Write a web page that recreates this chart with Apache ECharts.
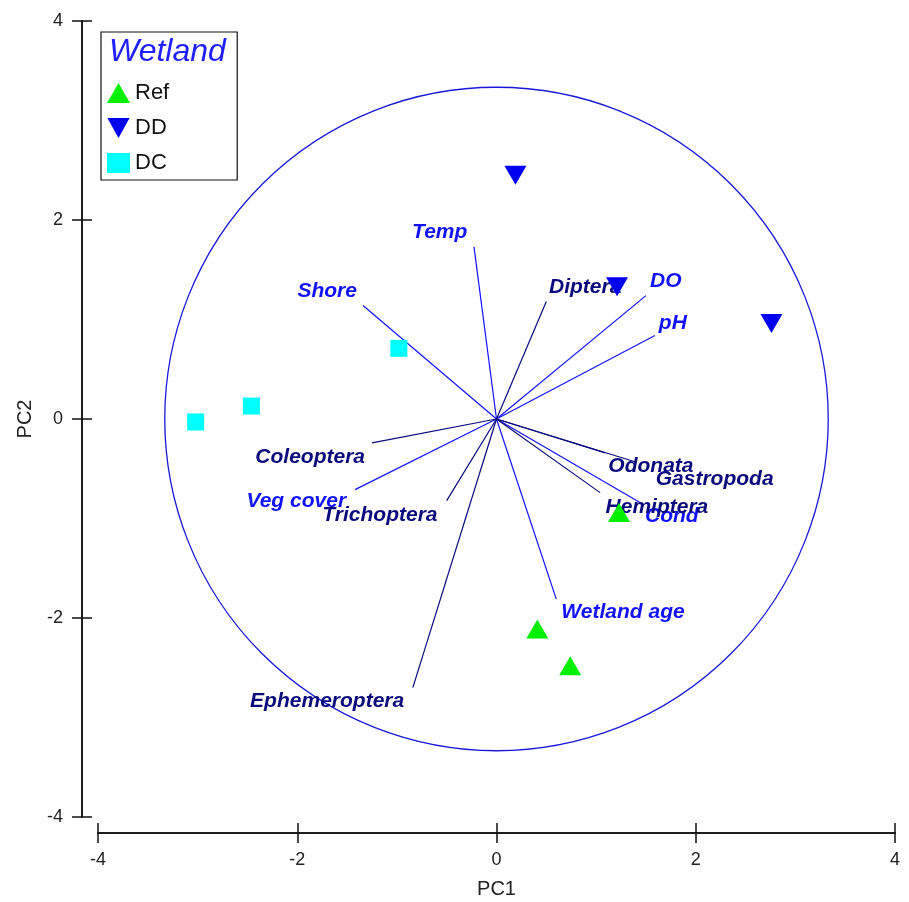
<!DOCTYPE html>
<html>
<head>
<meta charset="utf-8">
<script src="https://cdn.jsdelivr.net/npm/echarts@6/dist/echarts.min.js"></script>
<style>
html, body { margin: 0; background: #fff; }
#chart { width: 909px; height: 902px; }
</style>
</head>
<body>
<div id="chart"></div>
<script>
// sample scores
var refX = [1.23, 0.41, 0.74];
var refY = [-0.94, -2.11, -2.48];
var ddX = [0.19, 1.21, 2.76];
var ddY = [2.45, 1.33, 0.96];
var dcX = [-3.02, -2.46, -0.98];
var dcY = [-0.03, 0.13, 0.71];

// environmental vectors (blue)
var envNames = ['Temp', 'Shore', 'DO', 'pH', 'Veg cover', 'Cond', 'Wetland age'];
var envX = [-0.226, -1.34, 1.50, 1.59, -1.42, 1.44, 0.60];
var envY = [1.73, 1.14, 1.24, 0.84, -0.71, -0.84, -1.81];
var envLabelX = [-0.57, -1.70, 1.70, 1.77, -2.01, 1.76, 1.27];
var envLabelY = [1.88, 1.28, 1.38, 0.96, -0.83, -0.98, -1.94];

// taxa vectors (navy)
var sppNames = ['Diptera', 'Coleoptera', 'Trichoptera', 'Odonata', 'Gastropoda', 'Hemiptera', 'Ephemeroptera'];
var sppX = [0.50, -1.25, -0.50, 1.09, 1.39, 1.04, -0.84];
var sppY = [1.18, -0.24, -0.82, -0.34, -0.43, -0.74, -2.70];
var sppLabelX = [0.89, -1.87, -1.17, 1.55, 2.19, 1.61, -1.70];
var sppLabelY = [1.32, -0.38, -0.97, -0.47, -0.61, -0.89, -2.84];

var circleRadius = 3.33;
var axisMin = -4, axisMax = 4, axisStep = 2;

var envColor = '#1212ff';
var sppColor = '#0a0a7c';
var font = 'Liberation Sans, Arial, sans-serif';

function pairs(xs, ys) {
    var out = [];
    for (var i = 0; i < xs.length; i++) out.push([xs[i], ys[i]]);
    return out;
}
function labelled(xs, ys, names) {
    var out = [];
    for (var i = 0; i < xs.length; i++) out.push({ value: [xs[i], ys[i]], name: names[i] });
    return out;
}

function vectorSeries(xs, ys, color) {
    return {
        type: 'custom',
        silent: true,
        z: 2,
        data: pairs(xs, ys),
        renderItem: function (params, api) {
            var o = api.coord([0, 0]);
            var p = api.coord([api.value(0), api.value(1)]);
            return {
                type: 'line',
                shape: { x1: o[0], y1: o[1], x2: p[0], y2: p[1] },
                style: { stroke: color, lineWidth: 1.2 }
            };
        }
    };
}

function labelSeries(xs, ys, names, color) {
    return {
        type: 'scatter',
        silent: true,
        z: 3,
        symbolSize: 0,
        itemStyle: { opacity: 1 },
        data: labelled(xs, ys, names),
        label: {
            show: true,
            position: [0, 0],
            align: 'center',
            verticalAlign: 'middle',
            formatter: '{b}',
            color: color,
            opacity: 1,
            fontFamily: font,
            fontSize: 21,
            fontStyle: 'italic',
            fontWeight: 'bold'
        }
    };
}

var chart = echarts.init(document.getElementById('chart'));

function xAx(inside, showLabel) {
    return {
        type: 'value', min: axisMin, max: axisMax, interval: axisStep,
        position: 'bottom', offset: 16,
        name: showLabel ? 'PC1' : '', nameLocation: 'middle', nameGap: 46,
        nameTextStyle: { fontFamily: font, fontSize: 20, color: '#222' },
        splitLine: { show: false },
        axisLine: { show: true, onZero: false, lineStyle: { color: '#111', width: 1.5 } },
        axisTick: { show: true, inside: inside, length: 10, lineStyle: { color: '#111', width: 1.5 } },
        axisLabel: { show: showLabel, margin: 18, fontFamily: font, fontSize: 18, color: '#222' }
    };
}
function yAx(inside, showLabel) {
    return {
        type: 'value', min: axisMin, max: axisMax, interval: axisStep,
        position: 'left', offset: 16,
        name: showLabel ? 'PC2' : '', nameLocation: 'middle', nameGap: 47, nameRotate: 90,
        nameTextStyle: { fontFamily: font, fontSize: 20, color: '#222' },
        splitLine: { show: false },
        axisLine: { show: true, onZero: false, lineStyle: { color: '#111', width: 1.5 } },
        axisTick: { show: true, inside: inside, length: 10, lineStyle: { color: '#111', width: 1.5 } },
        axisLabel: { show: showLabel, margin: 19, fontFamily: font, fontSize: 18, color: '#222' }
    };
}

var option = {
    animation: false,
    backgroundColor: '#fff',
    title: {
        text: 'Wetland',
        left: 104, top: 31,
        textStyle: { fontFamily: font, fontSize: 32, fontStyle: 'italic', fontWeight: 'normal', color: '#2020ff' }
    },
    legend: {
        data: ['Ref', 'DD', 'DC'],
        orient: 'vertical',
        left: 101, top: 32,
        padding: [50, 68, 6, 6],
        itemGap: 13,
        itemWidth: 23, itemHeight: 20,
        itemTextGap: 16,
        borderColor: '#111', borderWidth: 1.2,
        textStyle: { fontFamily: font, fontSize: 22, color: '#111' }
    },
    grid: { left: 98, top: 21, width: 797, height: 796, outerBoundsMode: 'none' },
    xAxis: [xAx(false, true), xAx(true, false)],
    yAxis: [yAx(false, true), yAx(true, false)],
    series: [
        {
            type: 'custom',
            silent: true,
            z: 1,
            data: [[0, 0, circleRadius]],
            renderItem: function (params, api) {
                var c = api.coord([api.value(0), api.value(1)]);
                var r = api.size([api.value(2), 0])[0];
                return {
                    type: 'circle',
                    shape: { cx: c[0], cy: c[1], r: r },
                    style: { fill: null, stroke: '#1818d8', lineWidth: 1.3 }
                };
            }
        },
        vectorSeries(envX, envY, envColor),
        vectorSeries(sppX, sppY, sppColor),
        labelSeries(envLabelX, envLabelY, envNames, envColor),
        labelSeries(sppLabelX, sppLabelY, sppNames, sppColor),
        {
            name: 'Ref', type: 'scatter', z: 4,
            symbol: 'triangle', symbolSize: [22, 19],
            itemStyle: { color: '#00f000', opacity: 1 },
            data: pairs(refX, refY)
        },
        {
            name: 'DD', type: 'scatter', z: 4,
            symbol: 'path://M0,0L20,0L10,18Z', symbolSize: [22, 19],
            itemStyle: { color: '#0000f0', opacity: 1 },
            data: pairs(ddX, ddY)
        },
        {
            name: 'DC', type: 'scatter', z: 4,
            symbol: 'rect', symbolSize: 17, symbolKeepAspect: true,
            itemStyle: { color: '#00ffff', opacity: 1 },
            data: pairs(dcX, dcY)
        }
    ]
};

chart.setOption(option);
</script>
</body>
</html>
